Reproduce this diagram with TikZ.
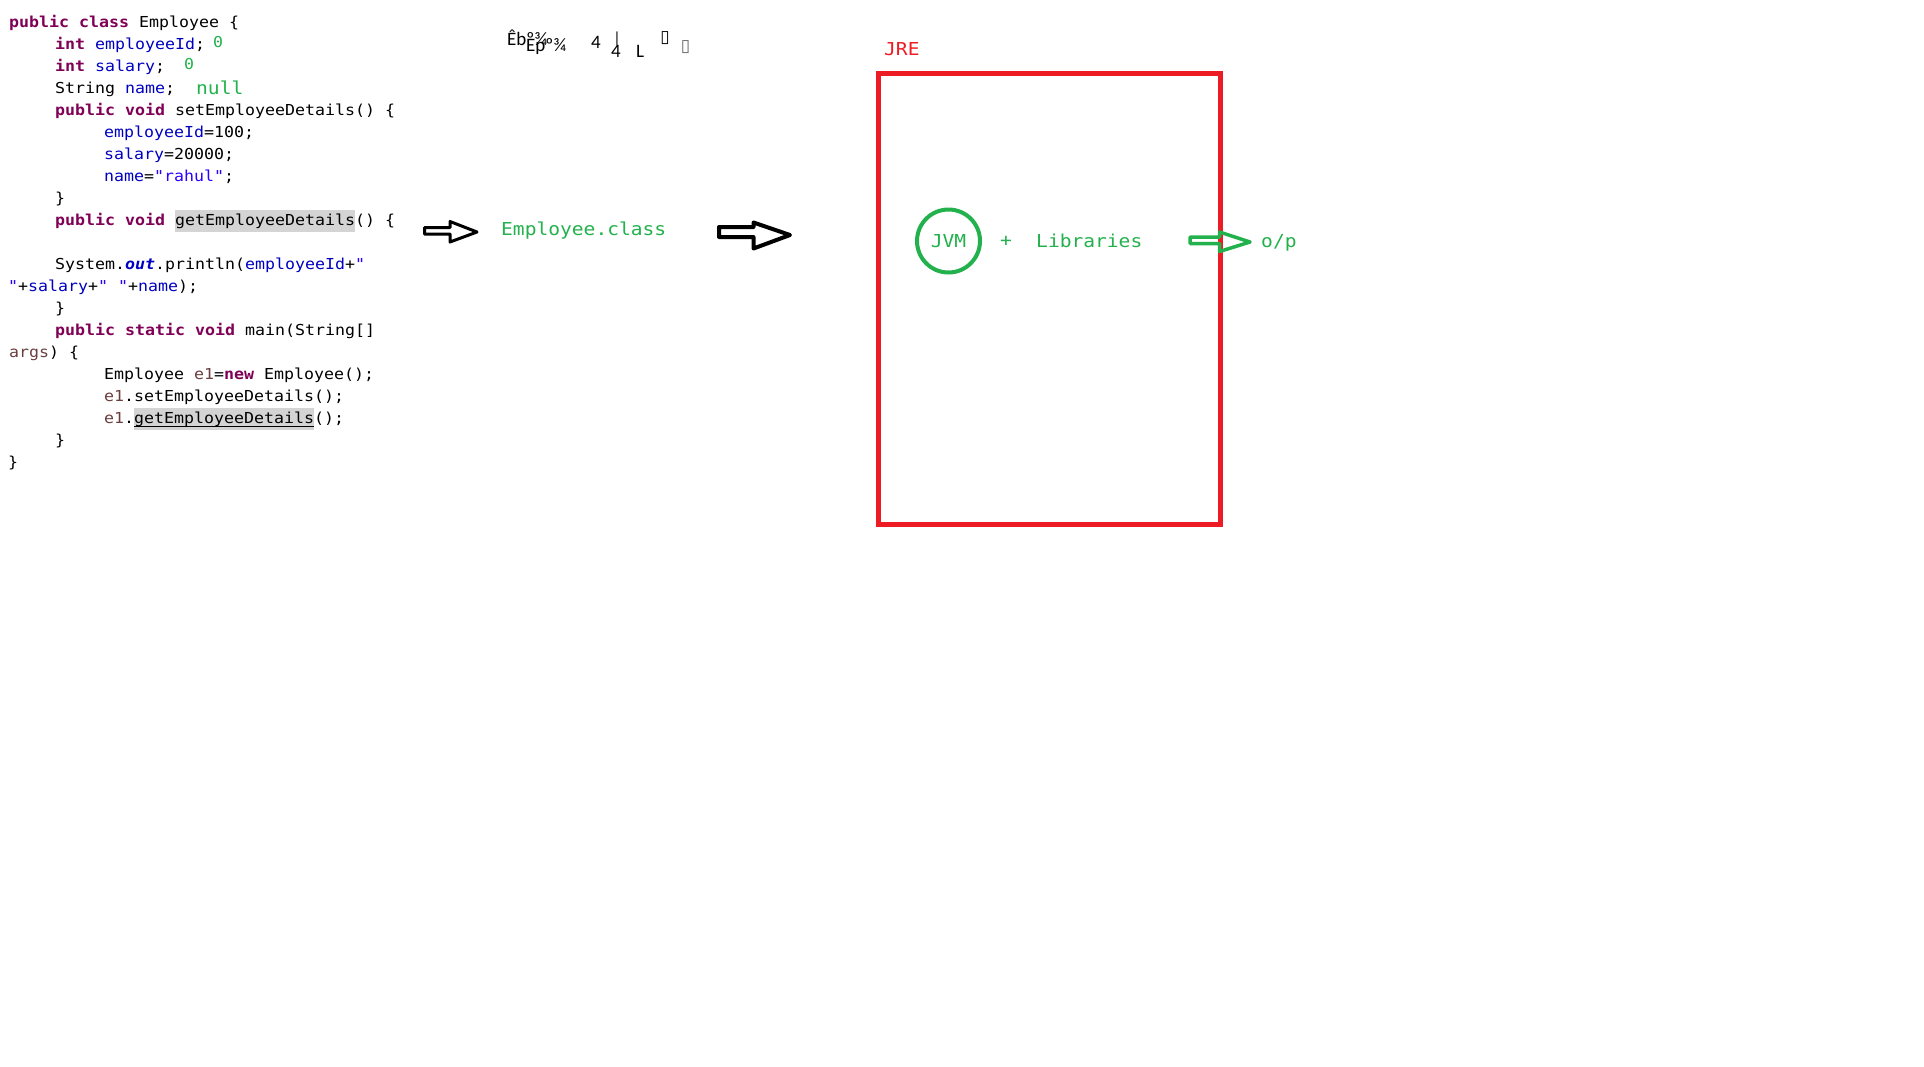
\documentclass[tikz,border=0pt]{standalone}
\usepackage{fontspec}
\usepackage{calc}
\newfontfamily\codefont{DejaVu Sans Mono}[FakeStretch=1.1]
\newfontfamily\paintfont{DejaVu Sans Mono}[FakeStretch=1.1]
\newfontfamily\garbfont{Carlito}
\newfontfamily\boxfont{DejaVu Sans}

\definecolor{kwcol}{HTML}{7F0055}
\definecolor{fieldcol}{HTML}{0000C0}
\definecolor{strcol}{HTML}{2A00FF}
\definecolor{varcol}{HTML}{6A3E3E}
\definecolor{hlgray}{HTML}{D4D4D4}
\definecolor{paintgreen}{HTML}{22B14C}
\definecolor{paintred}{HTML}{ED1C24}

% java syntax colouring
\newcommand\jkw[1]{\textcolor{kwcol}{\bfseries #1}}
\newcommand\jfld[1]{\textcolor{fieldcol}{#1}}
\newcommand\jstr[1]{\textcolor{strcol}{#1}}
\newcommand\jvar[1]{\textcolor{varcol}{#1}}
\newcommand\jhl[1]{{\fboxsep=0pt\colorbox{hlgray}{\strut #1}}}
\newcommand\jhlu[1]{{\fboxsep=0pt\colorbox{hlgray}{\strut\rlap{\rule[-4pt]{\widthof{#1}}{1pt}}#1}}}

\tikzset{
  code/.style={font=\codefont\fontsize{15.1}{22}\selectfont, anchor=base west, inner sep=0pt},
  paint/.style={font=\paintfont\fontsize{17.8}{22}\selectfont, text=paintgreen, inner sep=0pt},
  paintsmall/.style={font=\paintfont\fontsize{15}{18}\selectfont, text=paintgreen, inner sep=0pt},
  garb/.style={font=\garbfont\fontsize{19}{22}\selectfont, anchor=base west, inner sep=0pt},
  garbbox/.style={font=\boxfont\fontsize{17}{20}\selectfont, inner sep=0pt},
  fatarrow/.style={draw=black, line width=3pt, line join=round},
  jrebox/.style={draw=paintred, line width=5pt, inner sep=0pt},
}

\begin{document}
\begin{tikzpicture}[x=1pt,y=-1pt]
    \useasboundingbox (0,0) rectangle (1924,1066);

    % Java source
    \node[code] (l1)  at (9,27)    {\jkw{public} \jkw{class} Employee \{};
    \node[code] (l2)  at (55,49)   {\jkw{int} \jfld{employeeId};};
    \node[code] (l3)  at (55,71)   {\jkw{int} \jfld{salary};};
    \node[code] (l4)  at (55,93)   {String \jfld{name};};
    \node[code] (l5)  at (55,115)  {\jkw{public} \jkw{void} setEmployeeDetails() \{};
    \node[code] (l6)  at (104,137) {\jfld{employeeId}=100;};
    \node[code] (l7)  at (104,159) {\jfld{salary}=20000;};
    \node[code] (l8)  at (104,181) {\jfld{name}=\jstr{"rahul"};};
    \node[code] (l9)  at (55,203)  {\}};
    \node[code] (l10) at (55,225)  {\jkw{public} \jkw{void} \jhl{getEmployeeDetails}() \{};
    \node[code] (l12) at (55,269)  {System.\textcolor{fieldcol}{\bfseries\itshape out}.println(\jfld{employeeId}+\jstr{"}};
    \node[code] (l13) at (8,291)   {\jstr{"}+\jfld{salary}+\jstr{" "}+\jfld{name});};
    \node[code] (l14) at (55,313)  {\}};
    \node[code] (l15) at (55,335)  {\jkw{public} \jkw{static} \jkw{void} main(String[]};
    \node[code] (l16) at (9,357)   {\jvar{args}) \{};
    \node[code] (l17) at (104,379) {Employee \jvar{e1}=\jkw{new} Employee();};
    \node[code] (l18) at (104,401) {\jvar{e1}.setEmployeeDetails();};
    \node[code] (l19) at (104,423) {\jvar{e1}.\jhlu{getEmployeeDetails}();};
    \node[code] (l20) at (55,445)  {\}};
    \node[code] (l21) at (8,467)   {\}};

    % default values
    \node[paintsmall] (idval)   at (218,42) {0};
    \node[paintsmall] (salval)  at (189,64) {0};
    \node[paint, anchor=west] (nameval) at (196,87.5) {null};

    % garbled text
    \node[garb] (g1) at (507,45) {Êbº¾};
    \node[garb] (g2) at (526,51) {Epº¾};
    \node[garb] (g3) at (591,48) {4};
    \node[garb] (g4) at (611,57) {4};
    \node[font=\garbfont\fontsize{16}{18}\selectfont, inner sep=0pt] (g5) at (617,39) {|};
    \node[garb] (g6) at (636,57) {L};
    \node[garbbox] (g7) at (665,38.5) {▯};
    \node[garbbox, text=black!60] (g8) at (685.5,47.5) {▯};

    % compile step
    \draw[fatarrow] (424.5,227.5) -- (450,227.5) -- (450,221.5) -- (477,232)
        -- (450,242) -- (450,234) -- (424.5,234) -- cycle;
    \node[paint, anchor=base west] (classfile) at (501,235) {Employee.class};
    \draw[fatarrow, line width=4pt] (719,227) -- (753.5,227) -- (753.5,222.5) -- (790,235)
        -- (753.5,248.5) -- (753.5,237) -- (719,237) -- cycle;

    % runtime
    \node[jrebox, minimum width=342, minimum height=451] (jre) at (1049.5,299) {};
    \node[paint, text=paintred, anchor=base west] (jrelabel) at (884,55) {JRE};
    \node[paint, circle, draw=paintgreen, line width=4pt, minimum size=63] (jvm) at (948.5,241) {JVM};
    \node[paint] (plus) at (1006,241) {+};
    \node[paint, anchor=base west] (libs) at (1036,247) {Libraries};
    \draw[fatarrow, draw=paintgreen, line width=3.5pt] (1190,237) -- (1219.5,237) -- (1219.5,232)
        -- (1250,242) -- (1219.5,251.5) -- (1219.5,243.5) -- (1190,243.5) -- cycle;
    \node[paint, anchor=base west] (output) at (1261,247) {o/p};
\end{tikzpicture}
\end{document}
